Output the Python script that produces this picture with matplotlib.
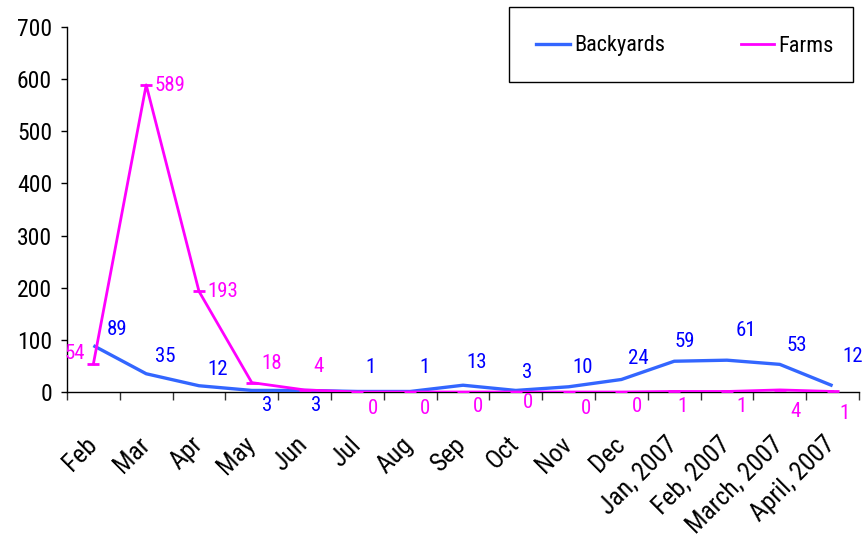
import matplotlib
matplotlib.use("Agg")
import matplotlib.pyplot as plt
from matplotlib.lines import Line2D
from matplotlib.patches import Rectangle
from matplotlib.transforms import ScaledTranslation
from matplotlib.ticker import FixedLocator

plt.rcParams["font.family"] = ["Roboto Condensed", "Archivo Narrow", "Liberation Sans", "DejaVu Sans"]

months = ["Feb", "Mar", "Apr", "May", "Jun", "Jul", "Aug", "Sep", "Oct", "Nov",
          "Dec", "Jan, 2007", "Feb, 2007", "March, 2007", "April, 2007"]
backyards = [89, 35, 12, 3, 3, 1, 1, 13, 3, 10, 24, 59, 61, 53, 12]
farms = [54, 589, 193, 18, 4, 0, 0, 0, 0, 0, 0, 1, 1, 4, 1]
y_ticks = [0, 100, 200, 300, 400, 500, 600, 700]

# value-label placement (pixels right, pixels up from the point)
backyard_label_offsets = [(24, 16), (19, 17), (19, 16), (15, -15), (12, -15), (13, 24),
                          (14, 24), (14, 23), (11, 18), (14, 19), (17, 21), (11, 20),
                          (19, 30), (17, 19), (20, 29)]
farm_label_offsets = [(-19, 10), (24, -1), (24, 0), (20, 19), (14, 23), (16, -16),
                      (15, -16), (15, -14), (12, -11), (17, -16), (16, -15), (8, -15),
                      (15, -15), (16, -22), (12, -22)]

BLUE_LINE = "#3366FF"
BLUE_TEXT = "#0000FF"
MAGENTA = "#FF00FF"

fig = plt.figure(figsize=(8.66, 5.39), dpi=100)
ax = fig.add_axes([67 / 866, 147 / 539, 792 / 866, 365 / 539])

x = [i + 0.5 for i in range(len(months))]

ax.plot(x, backyards, color=BLUE_LINE, lw=2.4, zorder=3, solid_capstyle="butt")
ax.plot(x, farms, color=MAGENTA, lw=2.0, marker="_", markersize=8.5,
        markeredgewidth=2.0, zorder=4)

for xi, v, (dx, dy) in zip(x, backyards, backyard_label_offsets):
    ax.annotate(str(v), (xi, v), xytext=(dx, dy), textcoords="offset pixels",
                ha="center", va="center", color=BLUE_TEXT, fontsize=15,
                annotation_clip=False)
for xi, v, (dx, dy) in zip(x, farms, farm_label_offsets):
    ax.annotate(str(v), (xi, v), xytext=(dx, dy), textcoords="offset pixels",
                ha="center", va="center", color=MAGENTA, fontsize=15,
                annotation_clip=False)

ax.set_xlim(0, len(months))
ax.set_ylim(0, 700)
ax.set_yticks(y_ticks)
ax.tick_params(axis="y", direction="out", length=4.3, width=1, labelsize=17,
               pad=6.5, color="black")

# category boundaries carry the tick marks, centres carry the labels
ax.xaxis.set_minor_locator(FixedLocator(list(range(len(months) + 1))))
ax.set_xticks(x)
ax.set_xticklabels(months, rotation=45, ha="right", rotation_mode="anchor")
ax.tick_params(axis="x", which="major", length=0, labelsize=18.5, pad=29)
ax.tick_params(axis="x", which="minor", direction="out", length=5.8, width=1,
               color="#333333")
shift = ScaledTranslation(-9 / 100, 0, fig.dpi_scale_trans)
for lab in ax.get_xticklabels():
    lab.set_transform(lab.get_transform() + shift)

for side in ("top", "right"):
    ax.spines[side].set_visible(False)
for side in ("left", "bottom"):
    ax.spines[side].set_linewidth(1.0)
    ax.spines[side].set_color("black")

# legend in a plain rectangular box
fig.add_artist(Rectangle((509 / 866, 1 - 82 / 539), 344 / 866, 75 / 539,
                         transform=fig.transFigure, fill=False, ec="black", lw=1.0))
handles = [Line2D([], [], color=BLUE_LINE, lw=2.4),
           Line2D([], [], color=MAGENTA, lw=2.0)]
fig.legend(handles, ["Backyards", "Farms"], loc="center",
           bbox_to_anchor=(685 / 866, 1 - 46 / 539), frameon=False, ncol=2,
           fontsize=16, handlelength=1.5, handletextpad=0.2, columnspacing=3.4)

fig.savefig("out.png", dpi=100)
